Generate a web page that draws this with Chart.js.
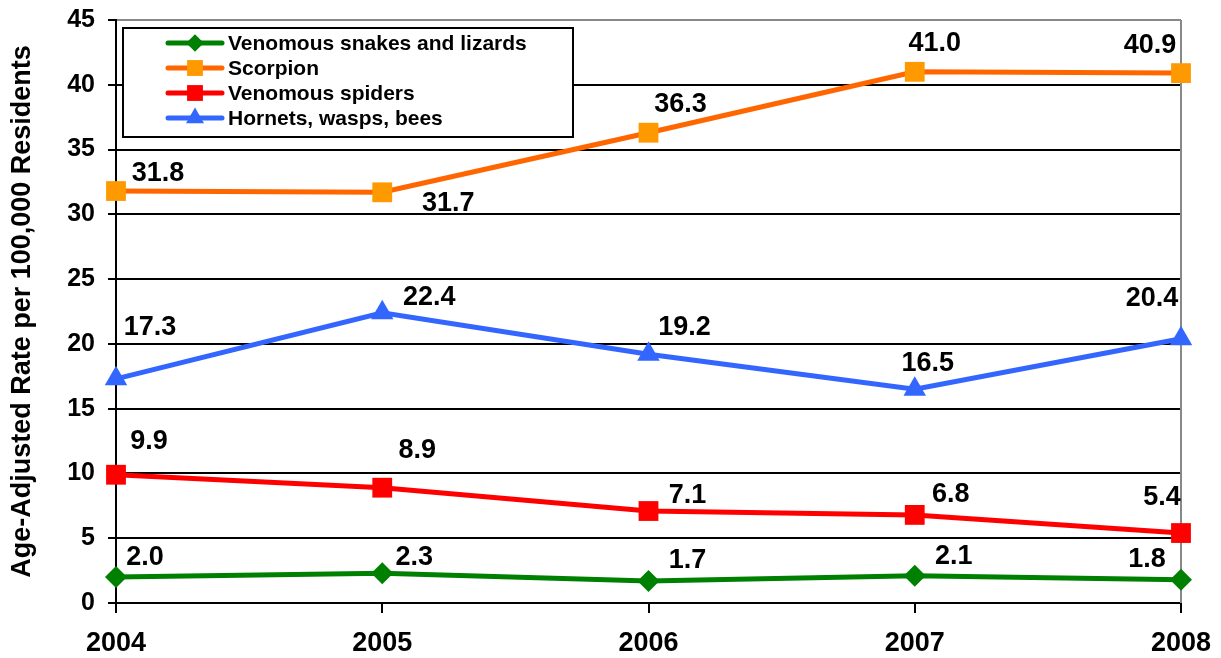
<!DOCTYPE html>
<html lang="en">
<head>
    <meta charset="UTF-8">
    <title>Venomous Exposures</title>
    <style>
        body { margin: 0; background: #fff; }
        #wrap { width: 1221px; height: 658px; }
    </style>
</head>
<body>
<div id="wrap"><canvas id="rateChart"></canvas></div>

<script src="https://cdn.jsdelivr.net/npm/chart.js"></script>
<script>
// Age-adjusted rates per 100,000 residents
const years = ['2004', '2005', '2006', '2007', '2008'];
const snakes = [2.0, 2.3, 1.7, 2.1, 1.8];
const scorpion = [31.8, 31.7, 36.3, 41.0, 40.9];
const spiders = [9.9, 8.9, 7.1, 6.8, 5.4];
const hornets = [17.3, 22.4, 19.2, 16.5, 20.4];

// where each value label sits relative to its point (px)
const labelOffsets = [
    [[29, -21], [32, -17], [39, -21], [39, -20], [-34, -21]],
    [[42, -18], [66, 10], [32, -29], [20, -29], [-31, -29]],
    [[33, -34], [35, -38], [39, -16], [36, -21], [-19, -36]],
    [[34, -52], [47, -16], [36, -28], [13, -27], [-29, -41]]
];

const FONT = 'Arial, "Liberation Sans", sans-serif';

const valueLabels = {
    id: 'valueLabels',
    afterDatasetsDraw(chart) {
        const ctx = chart.ctx;
        ctx.save();
        ctx.fillStyle = '#000';
        ctx.font = 'bold 27px ' + FONT;
        ctx.textAlign = 'center';
        ctx.textBaseline = 'middle';
        chart.data.datasets.forEach((ds, i) => {
            chart.getDatasetMeta(i).data.forEach((pt, j) => {
                const off = labelOffsets[i][j];
                ctx.fillText(ds.data[j].toFixed(1), pt.x + off[0], pt.y + off[1] + 1);
            });
        });
        ctx.restore();
    }
};

// plot frame and boxed legend
const frameAndLegend = {
    id: 'frameAndLegend',
    beforeDatasetsDraw(chart) {
        const { ctx, chartArea: a } = chart;
        ctx.save();
        ctx.strokeStyle = '#888';
        ctx.lineWidth = 2;
        ctx.beginPath();
        ctx.moveTo(a.right, a.top);
        ctx.lineTo(a.right, a.bottom);
        ctx.stroke();
        ctx.restore();
    },
    afterDatasetsDraw(chart) {
        const ctx = chart.ctx;
        ctx.save();
        ctx.fillStyle = '#fff';
        ctx.fillRect(123, 28, 450, 109);
        ctx.strokeStyle = '#000';
        ctx.lineWidth = 2;
        ctx.strokeRect(123, 28, 450, 109);
        ctx.font = 'bold 21px ' + FONT;
        ctx.textBaseline = 'middle';
        chart.data.datasets.forEach((ds, i) => {
            const y = 43 + i * 25;
            ctx.strokeStyle = ds.borderColor;
            ctx.lineWidth = 5;
            ctx.lineCap = 'round';
            ctx.beginPath();
            ctx.moveTo(168, y);
            ctx.lineTo(222, y);
            ctx.stroke();
            ctx.fillStyle = ds.pointBackgroundColor;
            ctx.strokeStyle = ds.pointBackgroundColor;
            Chart.helpers.drawPoint(ctx, {
                pointStyle: ds.pointStyle,
                radius: ds.pointRadius * 0.8,
                borderWidth: 0,
                rotation: 0
            }, 195, y);
            ctx.fillStyle = '#000';
            ctx.fillText(ds.label, 228, y + 1);
        });
        ctx.restore();
    }
};

new Chart(document.getElementById('rateChart'), {
    type: 'line',
    data: {
        labels: years,
        datasets: [
            {
                label: 'Venomous snakes and lizards',
                data: snakes,
                borderColor: '#008000',
                pointBackgroundColor: '#008000',
                pointBorderColor: '#008000',
                pointStyle: 'rectRot',
                pointRadius: 11
            },
            {
                label: 'Scorpion',
                data: scorpion,
                borderColor: '#FF6600',
                pointBackgroundColor: '#FF9900',
                pointBorderColor: '#FF9900',
                pointStyle: 'rect',
                pointRadius: 14
            },
            {
                label: 'Venomous spiders',
                data: spiders,
                borderColor: '#FF0000',
                pointBackgroundColor: '#FF0000',
                pointBorderColor: '#FF0000',
                pointStyle: 'rect',
                pointRadius: 14
            },
            {
                label: 'Hornets, wasps, bees',
                data: hornets,
                borderColor: '#3366FF',
                pointBackgroundColor: '#3366FF',
                pointBorderColor: '#3366FF',
                pointStyle: 'triangle',
                pointRadius: 13
            }
        ]
    },
    options: {
        responsive: true,
        maintainAspectRatio: false,
        animation: false,
        layout: { padding: { top: 20, right: 40, left: 0, bottom: 0 } },
        elements: {
            line: { borderWidth: 5, tension: 0 },
            point: { borderWidth: 0, hoverRadius: 14 }
        },
        clip: false,
        scales: {
            x: {
                offset: false,
                grid: { drawOnChartArea: false, tickLength: 10, color: '#000', lineWidth: 2 },
                border: { color: '#000', width: 2 },
                ticks: { color: '#000', font: { family: FONT, size: 27, weight: 'bold' }, padding: 14, maxRotation: 0 },
                afterFit(scale) {
                    scale.height = 55;
                    scale.paddingLeft = 0;
                    scale.paddingRight = 0;
                }
            },
            y: {
                min: 0,
                max: 45,
                grid: {
                    tickLength: 8,
                    lineWidth: 2,
                    color: ctx => ctx.tick && ctx.tick.value === 45 ? '#888' : '#000',
                    tickColor: '#000'
                },
                border: { color: '#000', width: 2 },
                ticks: { stepSize: 5, color: '#000', font: { family: FONT, size: 25, weight: 'bold' }, padding: 13 },
                title: {
                    display: true,
                    text: 'Age-Adjusted Rate per 100,000 Residents',
                    color: '#000',
                    font: { family: FONT, size: 27, weight: 'bold' },
                    padding: { top: 6, bottom: 0 }
                },
                afterFit(scale) {
                    scale.width = 116;
                    scale.paddingTop = 0;
                    scale.paddingBottom = 0;
                }
            }
        },
        plugins: {
            legend: { display: false },
            tooltip: { enabled: false }
        }
    },
    plugins: [frameAndLegend, valueLabels]
});
</script>
</body>
</html>
